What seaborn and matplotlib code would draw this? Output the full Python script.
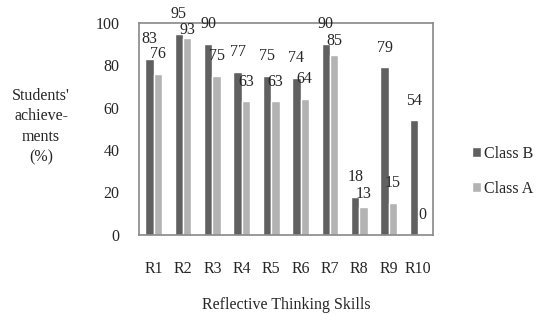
import matplotlib
matplotlib.use("Agg")
import matplotlib.pyplot as plt
import seaborn as sns
import pandas as pd

# chart data
skills = ["R1", "R2", "R3", "R4", "R5", "R6", "R7", "R8", "R9", "R10"]
class_b = [83, 95, 90, 77, 75, 74, 90, 18, 79, 54]
class_a = [76, 93, 75, 63, 63, 64, 85, 13, 15, 0]
series = ["Class B", "Class A"]

sns.set_style("white")
plt.rcParams["font.family"] = ["Liberation Serif", "DejaVu Serif"]
FS = 11.5

df = pd.DataFrame({
    "skill": skills * 2,
    "score": class_b + class_a,
    "cls": ["Class B"] * len(skills) + ["Class A"] * len(skills),
})

fig = plt.figure(figsize=(5.43, 3.14), dpi=100)
ax = fig.add_axes([0.256, 0.252, 0.541, 0.675])

sns.barplot(data=df, x="skill", y="score", hue="cls", hue_order=series,
            palette=["#606060", "#b3b3b3"], width=0.57, ax=ax,
            saturation=1, errorbar=None)

# value labels, the lower one pulled down where two labels would collide
label_pad = 8.5
for ci, cont in enumerate(ax.containers):
    texts = ax.bar_label(cont, fmt="%d", padding=label_pad, fontsize=FS)
    if ci == 1:
        for i, t in enumerate(texts):
            gap = class_b[i] - class_a[i]
            if 0 <= gap <= 3:
                t.xyann = (0, -0.5)
            elif 3 < gap <= 5:
                t.xyann = (0, 4)

ax.set_ylim(0, 100)
ax.set_yticks(range(0, 101, 20))
ax.set_xlim(-0.5, len(skills) - 0.5)
for s in ax.spines.values():
    s.set_color("#888888")
    s.set_linewidth(1.2)
ax.tick_params(axis="y", direction="in", length=3, color="#888888", labelsize=FS, pad=14)
ax.tick_params(axis="x", length=0, labelsize=FS, pad=19)

ax.set_ylabel("Students'\nachieve-\nments\n(%)", rotation=0, fontsize=FS,
              ha="center", va="center", linespacing=1.38)
ax.yaxis.set_label_coords(-0.333, 0.51)
ax.set_xlabel("Reflective Thinking Skills", fontsize=FS, labelpad=14)

handles, labels = ax.get_legend_handles_labels()
ax.legend(handles, labels, loc="center left", bbox_to_anchor=(1.105, 0.30),
          frameon=False, fontsize=FS, handlelength=0.6, handleheight=0.6,
          handletextpad=0.2, labelspacing=1.2, borderpad=0)

fig.savefig("out.png", dpi=100)
